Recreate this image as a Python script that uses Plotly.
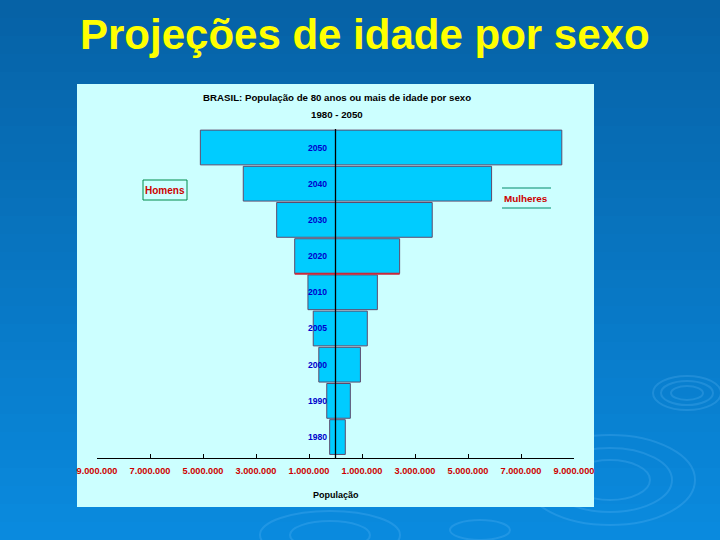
import plotly.graph_objects as go

# ---- data ----
years = ["1980", "1990", "2000", "2005", "2010", "2020", "2030", "2040", "2050"]
homens = [220000, 330000, 630000, 840000, 1040000, 1540000, 2220000, 3480000, 5100000]
mulheres = [370000, 560000, 940000, 1200000, 1580000, 2420000, 3650000, 5890000, 8540000]
tick_vals = [-9e6, -7e6, -5e6, -3e6, -1e6, 1e6, 3e6, 5e6, 7e6, 9e6]
tick_text = ["9.000.000", "7.000.000", "5.000.000", "3.000.000", "1.000.000",
             "1.000.000", "3.000.000", "5.000.000", "7.000.000", "9.000.000"]

W, H = 720, 540
SANS = "Liberation Sans, Arial, sans-serif"

def px(x):
    return x / W

def py(y):
    return 1 - y / H

fig = go.Figure()

bar_line = dict(color="#5e4a6c", width=1)
fig.add_trace(go.Bar(y=years, x=[-v for v in homens], orientation="h",
                     marker=dict(color="#00ccff", line=bar_line),
                     name="Homens", hoverinfo="skip"))
fig.add_trace(go.Bar(y=years, x=mulheres, orientation="h",
                     marker=dict(color="#00ccff", line=bar_line),
                     name="Mulheres", hoverinfo="skip"))

shapes = []
# background gradient
top_c = (6, 98, 166)
bot_c = (10, 138, 222)
n = 30
for i in range(n):
    t = i / (n - 1)
    c = tuple(int(round(top_c[k] + (bot_c[k] - top_c[k]) * t)) for k in range(3))
    shapes.append(dict(type="rect", xref="paper", yref="paper", x0=0, x1=1,
                       y0=1 - (i + 1) / n, y1=1 - i / n,
                       fillcolor="rgb(%d,%d,%d)" % c, line=dict(width=0), layer="below"))
# faint water ripples in the background
ripples = [(687, 393, 26, 12), (687, 393, 16, 7), (687, 393, 34, 17),
           (610, 480, 40, 20), (610, 480, 62, 32), (610, 480, 85, 45),
           (330, 535, 40, 14), (330, 535, 70, 24), (480, 530, 30, 10)]
for cx, cy, rx, ry in ripples:
    shapes.append(dict(type="circle", xref="paper", yref="paper",
                       x0=px(cx - rx), x1=px(cx + rx), y0=py(cy + ry), y1=py(cy - ry),
                       line=dict(color="rgba(120,200,255,0.2)", width=2), layer="below"))
# chart panel
shapes.append(dict(type="rect", xref="paper", yref="paper", x0=px(77), x1=px(594),
                   y0=py(507), y1=py(84), fillcolor="#ccffff", line=dict(width=0), layer="below"))
# red border under the 2020 bar
i2020 = years.index("2020")
shapes.append(dict(type="line", xref="x", yref="y", x0=-homens[i2020], x1=mulheres[i2020],
                   y0=i2020 - 0.49, y1=i2020 - 0.49, line=dict(color="#c8283a", width=2),
                   layer="above"))
# center line
shapes.append(dict(type="line", xref="x", yref="y domain", x0=0, x1=0, y0=0, y1=1,
                   line=dict(color="black", width=1.3), layer="above"))
# Homens box
shapes.append(dict(type="rect", xref="paper", yref="paper", x0=px(143), x1=px(187),
                   y0=py(200), y1=py(180), line=dict(color="#008a4a", width=1)))
# Mulheres lines
for yy in (188, 208):
    shapes.append(dict(type="line", xref="paper", yref="paper", x0=px(502), x1=px(551),
                       y0=py(yy), y1=py(yy), line=dict(color="#008a6a", width=1)))

def ann(text, x, y, size, color, bold=True, family=SANS):
    return dict(text=text, x=px(x), y=py(y), xref="paper", yref="paper", showarrow=False,
                xanchor="center", yanchor="middle",
                font=dict(family=family, size=size, color=color, weight="bold" if bold else "normal"))

annotations = [
    ann("Projeções de idade por sexo", 365, 34, 42, "#ffff00"),
    ann("BRASIL: População de 80 anos ou mais de idade por sexo", 337, 98, 9.7, "black"),
    ann("1980 - 2050", 337, 114, 9.7, "black"),
    ann("Homens", 165, 190, 10, "#cc0000"),
    ann("Mulheres", 526, 198, 9.9, "#cc0000"),
    ann("População", 336, 495, 9, "black"),
]
for i, yr in enumerate(years):
    annotations.append(dict(text=yr, x=0, y=i, xref="x", yref="y", showarrow=False,
                            xanchor="right", yanchor="middle", xshift=-7,
                            font=dict(family=SANS, size=8.6, color="#0000cc", weight="bold")))

fig.update_layout(
    width=W, height=H,
    margin=dict(l=0, r=0, t=0, b=0, autoexpand=False),
    paper_bgcolor="#0a70b8",
    plot_bgcolor="rgba(0,0,0,0)",
    barmode="relative",
    bargap=0.04,
    showlegend=False,
    shapes=shapes,
    annotations=annotations,
    xaxis=dict(domain=[px(97), px(574)], range=[-9e6, 9e6], tickvals=tick_vals, ticktext=tick_text,
               ticks="inside", ticklen=4, tickcolor="black", showline=True, linecolor="black",
               linewidth=1, showgrid=False, zeroline=False, tickangle=0, automargin=False,
               ticklabelstandoff=4,
               tickfont=dict(family=SANS, size=9.2, color="#cc0000", weight="bold"), fixedrange=True),
    yaxis=dict(domain=[py(458), py(129)], type="category", range=[-0.578, 8.511],
               showticklabels=False, showgrid=False, zeroline=False, showline=False, ticks="",
               automargin=False, fixedrange=True),
)

fig.write_html("out.html", config={"displayModeBar": False},
               post_script="document.body.style.margin='0';document.body.style.overflow='hidden';")
